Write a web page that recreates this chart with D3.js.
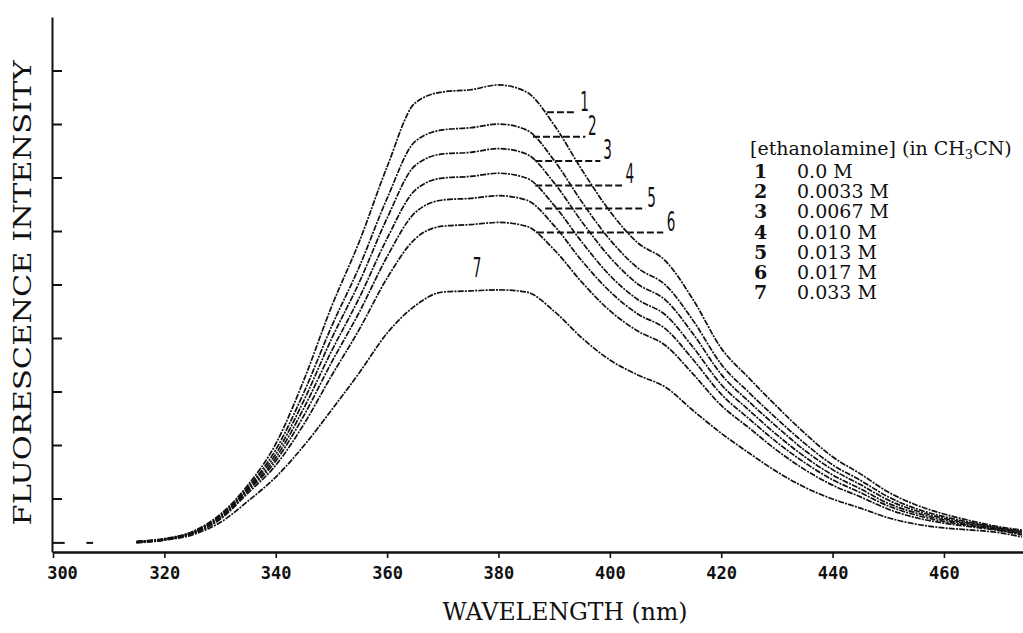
<!DOCTYPE html>
<html>
<head>
<meta charset="utf-8">
<script src="https://cdn.jsdelivr.net/npm/d3@7"></script>
<style>
  html, body { margin: 0; padding: 0; background: #fff; }
  svg { display: block; }
</style>
</head>
<body>
<svg id="chart" width="1023" height="633"></svg>
<script>
// ---------------- data ----------------
const wavelengths = [315,320,325,330,335,340,345,350,355,360,365,370,375,380,385,390,395,400,405,410,415,420,425,430,435,440,445,450,455,460,465,470,474];

const intensity1 = [0.20,0.25,0.38,0.70,1.25,2.02,3.20,4.58,5.80,7.20,8.39,8.60,8.64,8.73,8.60,7.98,7.14,6.37,5.78,5.44,4.71,3.81,3.25,2.72,2.22,1.78,1.46,1.12,0.88,0.71,0.58,0.47,0.41];
const intensity2 = [0.19,0.24,0.37,0.67,1.21,1.91,2.97,4.21,5.33,6.61,7.67,7.89,7.93,8.00,7.89,7.32,6.54,5.84,5.31,4.99,4.32,3.51,2.98,2.49,2.03,1.63,1.34,1.03,0.81,0.66,0.55,0.45,0.39];
const intensity3 = [0.19,0.24,0.36,0.66,1.19,1.83,2.82,3.98,5.04,6.24,7.22,7.44,7.47,7.54,7.44,6.90,6.17,5.51,5.01,4.71,4.07,3.32,2.81,2.34,1.90,1.54,1.26,0.97,0.77,0.63,0.53,0.44,0.37];
const intensity4 = [0.19,0.24,0.35,0.64,1.16,1.76,2.68,3.75,4.75,5.86,6.76,6.99,7.02,7.08,6.99,6.48,5.79,5.17,4.72,4.43,3.82,3.13,2.65,2.19,1.78,1.44,1.18,0.91,0.73,0.60,0.51,0.42,0.35];
const intensity5 = [0.18,0.23,0.35,0.62,1.14,1.70,2.54,3.54,4.48,5.52,6.34,6.58,6.61,6.66,6.58,6.10,5.44,4.87,4.45,4.17,3.59,2.95,2.49,2.05,1.67,1.35,1.11,0.86,0.69,0.57,0.49,0.41,0.34];
const intensity6 = [0.18,0.23,0.34,0.61,1.10,1.62,2.38,3.29,4.16,5.12,5.85,6.09,6.12,6.16,6.09,5.65,5.04,4.51,4.13,3.86,3.32,2.74,2.32,1.90,1.54,1.25,1.03,0.80,0.64,0.54,0.47,0.40,0.32];
const intensity7 = [0.17,0.22,0.32,0.55,0.95,1.40,1.98,2.65,3.35,4.09,4.60,4.86,4.88,4.90,4.86,4.50,4.00,3.59,3.31,3.08,2.64,2.22,1.85,1.50,1.21,0.99,0.82,0.64,0.52,0.45,0.41,0.36,0.28];

const curveIds = ["1","2","3","4","5","6","7"];
const concentrations = ["0.0 M","0.0033 M","0.0067 M","0.010 M","0.013 M","0.017 M","0.033 M"];

// stray baseline fragments before the traces begin
const strayStart = [300.0, 306.0];
const strayEnd   = [302.1, 307.2];
const strayLevel = 0.17;

// dashed leaders (wavelength from / to, intensity level) and label anchors
const leaderFrom  = [388.7, 386.2, 386.6, 386.6, 388.4, 386.9];
const leaderTo    = [394.1, 395.6, 398.3, 402.2, 406.4, 409.6];
const leaderLevel = [8.22, 7.76, 7.31, 6.85, 6.42, 5.97];
const labelWave   = [394.7, 396.1, 398.8, 402.8, 406.7, 410.2, 375.4];
const labelLevel  = [8.24, 7.79, 7.35, 6.90, 6.45, 6.00, 5.14];

const xTicks = [300,320,340,360,380,400,420,440,460];
const yTicks = [1,2,3,4,5,6,7,8,9];

const xTitle = "WAVELENGTH (nm)";
const yTitle = "FLUORESCENCE INTENSITY";

// ---------------- drawing ----------------
const svg = d3.select("#chart");
const x = d3.scaleLinear().domain([300, 474.2]).range([53, 1023]);
const y = d3.scaleLinear().domain([0, 10]).range([552, 17]);

const allSeries = [intensity1,intensity2,intensity3,intensity4,intensity5,intensity6,intensity7];

// curves
const line = d3.line()
  .x((d, i) => x(wavelengths[i]))
  .y(d => y(d))
  .curve(d3.curveMonotoneX);

svg.append("g").selectAll("path")
  .data(allSeries)
  .join("path")
  .attr("d", d => line(d))
  .attr("fill", "none")
  .attr("stroke", "#111")
  .attr("stroke-width", 1.7)
  .attr("stroke-dasharray", "6,1.2,2,1.2");

// stray fragments
svg.append("g").selectAll("line")
  .data(strayStart)
  .join("line")
  .attr("x1", d => x(d))
  .attr("x2", (d, i) => x(strayEnd[i]))
  .attr("y1", y(strayLevel))
  .attr("y2", y(strayLevel))
  .attr("stroke", "#111")
  .attr("stroke-width", 2);

// x axis
const xAxis = d3.axisBottom(x)
  .tickValues(xTicks)
  .tickSize(6)
  .tickSizeOuter(0)
  .tickPadding(9)
  .tickFormat(d3.format("d"));

const gx = svg.append("g")
  .attr("transform", `translate(0,${y(0)})`)
  .call(xAxis);
gx.select(".domain").attr("stroke", "#111").attr("stroke-width", 2.6);
gx.selectAll(".tick line").attr("stroke", "#111").attr("stroke-width", 1.6);
gx.selectAll(".tick text")
  .attr("fill", "#111")
  .style("font-family", "'DejaVu Sans Mono', monospace")
  .style("font-size", "17px")
  .style("font-weight", "bold");
gx.selectAll(".tick").filter(d => d === 300).select("text").attr("dx", 9);

// y axis (ticks pointing inward, no labels)
const yAxis = d3.axisRight(y)
  .tickValues(yTicks)
  .tickSize(10)
  .tickSizeOuter(0)
  .tickFormat("");
const gy = svg.append("g")
  .attr("transform", `translate(${x(300) - 1},0)`)
  .call(yAxis);
gy.select(".domain").attr("stroke", "#111").attr("stroke-width", 2);
gy.selectAll(".tick line").attr("stroke", "#111").attr("stroke-width", 2);

// axis titles
svg.append("text")
  .attr("x", 565)
  .attr("y", 620)
  .attr("text-anchor", "middle")
  .attr("textLength", 245)
  .attr("lengthAdjust", "spacingAndGlyphs")
  .style("font-family", "'DejaVu Serif', serif")
  .style("font-size", "24px")
  .attr("fill", "#111")
  .text(xTitle);

svg.append("text")
  .attr("transform", "translate(31,293) rotate(-90)")
  .attr("text-anchor", "middle")
  .attr("textLength", 465)
  .attr("lengthAdjust", "spacingAndGlyphs")
  .style("font-family", "'DejaVu Serif', serif")
  .style("font-size", "25px")
  .attr("fill", "#111")
  .text(yTitle);

// leaders
svg.append("g").selectAll("line")
  .data(leaderFrom)
  .join("line")
  .attr("x1", d => x(d))
  .attr("x2", (d, i) => x(leaderTo[i]))
  .attr("y1", (d, i) => y(leaderLevel[i]))
  .attr("y2", (d, i) => y(leaderLevel[i]))
  .attr("stroke", "#111")
  .attr("stroke-width", 2)
  .attr("stroke-dasharray", "7,3");

// curve labels (narrow plotter-style digits)
svg.append("g").selectAll("text")
  .data(curveIds)
  .join("text")
  .attr("transform", (d, i) => `translate(${x(labelWave[i])},${y(labelLevel[i])}) scale(0.52,1)`)
  .style("font-family", "'DejaVu Sans', sans-serif")
  .style("font-size", "26px")
  .attr("fill", "#111")
  .text(d => d);

// legend
const lg = svg.append("g").style("font-family", "'DejaVu Serif', serif").attr("fill", "#111");
const title = lg.append("text")
  .attr("x", 750).attr("y", 155)
  .style("font-size", "19px");
title.append("tspan").text("[ethanolamine] (in CH");
title.append("tspan").text("3").style("font-size", "13px").attr("dy", 4);
title.append("tspan").text("CN)").attr("dy", -4);

const rows = lg.selectAll("g.row")
  .data(curveIds)
  .join("g")
  .attr("class", "row")
  .attr("transform", (d, i) => `translate(0,${178 + i * 20.2})`);
rows.append("text")
  .attr("x", 754)
  .style("font-size", "19px")
  .style("font-weight", "bold")
  .text(d => d);
rows.append("text")
  .attr("x", 797)
  .style("font-size", "19px")
  .text((d, i) => concentrations[i]);
</script>
</body>
</html>
